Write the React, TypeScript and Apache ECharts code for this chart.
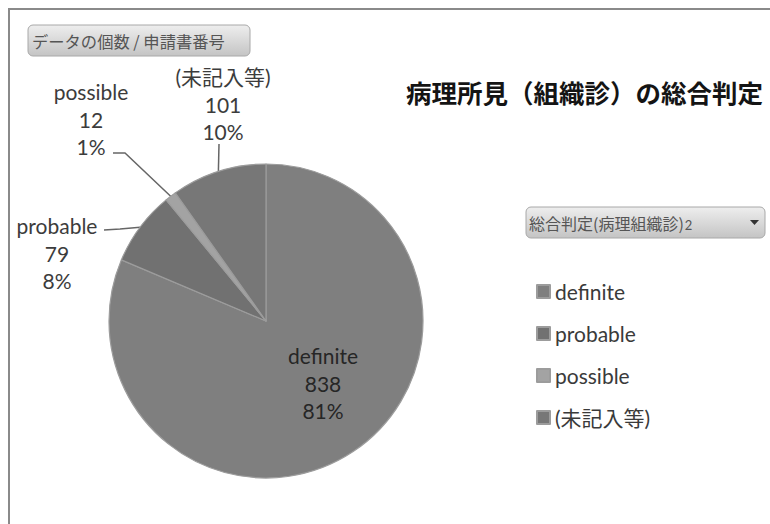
import React, { useEffect, useRef } from "react";
import * as echarts from "echarts";

const categories = ["definite", "probable", "possible", "(未記入等)"];
const counts = [838, 79, 12, 101];
const sliceColors = ["#7f7f7f", "#717171", "#a3a3a3", "#777777"];

const titleText = "病理所見（組織診）の総合判定";
const valueButtonText = "データの個数 / 申請書番号";
const fieldButtonText = "総合判定(病理組織診)";
const fieldButtonSuffix = "2";

// label placement (label centre, leader-line bend points)
const labelPlacement = [
  { x: 323, y: 383, bends: [] as number[][] },
  { x: 57, y: 253, bends: [[120, 229], [104, 230]] },
  { x: 91, y: 119, bends: [[125, 153], [113, 153]] },
  { x: 223, y: 104, bends: [[219, 144]] },
];

export default function App() {
  const ref = useRef<HTMLDivElement>(null);
  useEffect(() => {
    if (!ref.current) return;
    const chart = echarts.init(ref.current, undefined, { renderer: "svg" });
    const latin = "Lato, 'Noto Sans CJK JP', sans-serif";
    const cjk = "'Noto Sans CJK JP', sans-serif";
    const btnFill = new echarts.graphic.LinearGradient(0, 0, 0, 1, [
      { offset: 0, color: "#eeeeee" },
      { offset: 1, color: "#c4c4c4" },
    ]);
    chart.setOption({
      animation: false,
      backgroundColor: "#ffffff",
      title: {
        text: titleText,
        left: 406,
        top: 79,
        padding: 0,
        textStyle: { fontSize: 25.5, fontWeight: "bold", fontFamily: cjk, color: "#141414" },
      },
      legend: {
        orient: "vertical",
        left: 536,
        top: 281,
        padding: 0,
        icon: "rect",
        itemWidth: 13,
        itemHeight: 13,
        itemGap: 21,
        selectedMode: false,
        data: categories,
        textStyle: { fontSize: 21, fontFamily: latin, color: "#3a3a3a", lineHeight: 20 },
      },
      graphic: [
        {
          type: "rect",
          shape: { x: 9, y: 9, width: 900, height: 700 },
          style: { fill: "none", stroke: "#8a8a8a", lineWidth: 2 },
          silent: true,
        },
        {
          type: "rect",
          shape: { x: 28, y: 25, width: 222, height: 31, r: 5 },
          style: { fill: btnFill, stroke: "#a8a8a8", lineWidth: 1 },
        },
        {
          type: "text",
          x: 32,
          y: 41,
          style: { text: valueButtonText, fontSize: 16.3, fontFamily: cjk, fill: "#555555", verticalAlign: "middle" },
        },
        {
          type: "rect",
          shape: { x: 526, y: 207, width: 239, height: 31, r: 5 },
          style: { fill: btnFill, stroke: "#a8a8a8", lineWidth: 1 },
        },
        {
          type: "text",
          x: 529,
          y: 223,
          style: {
            text: "{a|" + fieldButtonText + "}{b|" + fieldButtonSuffix + "}",
            verticalAlign: "middle",
            rich: {
              a: { fontSize: 16, fontFamily: cjk, fill: "#555555", color: "#555555" },
              b: { fontSize: 13, fontFamily: latin, fill: "#555555", color: "#555555", padding: [3, 0, 0, 1] },
            },
          },
        },
        {
          type: "polygon",
          shape: { points: [[750, 220], [759, 220], [754.5, 225]] },
          style: { fill: "#333333" },
        },
      ],
      series: [
        {
          type: "pie",
          center: [266, 321],
          radius: 157,
          startAngle: 90,
          clockwise: true,
          percentPrecision: 0,
          emphasis: { disabled: true },
          itemStyle: { borderColor: "#9c9c9c", borderWidth: 1.2 },
          label: {
            show: true,
            position: "outside",
            formatter: "{b}\n{c}\n{d}%",
            fontSize: 21,
            lineHeight: 27.5,
            fontFamily: latin,
            color: "#3c3c3c",
            align: "center",
          },
          labelLine: { show: true, length: 15, length2: 10, lineStyle: { color: "#666666", width: 1.5 } },
          labelLayout: (params: any) => {
            const p = labelPlacement[params.dataIndex];
            const pts = params.labelLinePoints;
            const out: any = { x: p.x, y: p.y, align: "center", verticalAlign: "middle" };
            if (pts && p.bends.length) {
              out.labelLinePoints = [pts[0], ...p.bends];
            }
            return out;
          },
          data: categories.map((name, i) => ({
            name,
            value: counts[i],
            itemStyle: { color: sliceColors[i] },
            ...(i === 0
              ? { label: { position: "inside", color: "#262626" }, labelLine: { show: false } }
              : {}),
          })),
        },
      ],
    });
    return () => chart.dispose();
  }, []);
  return (
    <div
      ref={ref}
      style={{ position: "fixed", left: 0, top: 0, width: 770, height: 524 }}
    />
  );
}
